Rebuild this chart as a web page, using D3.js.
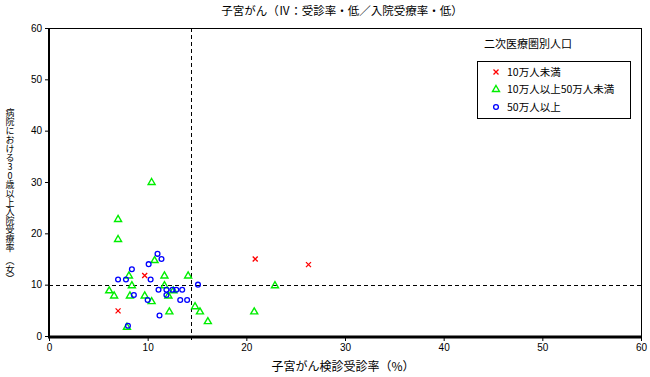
<!DOCTYPE html>
<html><head><meta charset="utf-8">
<script src="https://cdn.jsdelivr.net/npm/d3@7"></script>
<style>
html,body{margin:0;padding:0;background:#fff;}
svg{display:block;}
text{font-family:"Noto Sans CJK JP","Liberation Sans",sans-serif;fill:#000;}
</style></head>
<body>
<svg id="c" width="650" height="377"></svg>
<script>
// ---- data ----
const title = "子宮がん（Ⅳ：受診率・低／入院受療率・低）";
const xLabel = "子宮がん検診受診率（%）";
const yLabel = "病院における30歳以上入院受療率　（女）";
const legendTitle = "二次医療圏別人口";
const seriesNames = ["10万人未満","10万人以上50万人未満","50万人以上"];
const xTicks = [0,10,20,30,40,50,60];
const yTicks = [0,10,20,30,40,50,60];
const refX = 14.4;
const refY = 10;

const smallX = [9.7, 7.0, 20.9, 26.3];
const smallY = [11.8, 4.9, 15.0, 13.9];

const midX = [10.4, 7.0, 7.0, 10.7, 8.1, 11.7, 14.1, 8.4, 11.7, 6.1, 6.6, 8.2, 9.7, 12.1, 12.6, 10.4, 14.8, 15.3, 12.2, 16.1, 7.9, 22.9, 20.8];
const midY = [30.0, 22.8, 18.9, 14.8, 11.8, 11.8, 11.8, 9.9, 9.9, 8.9, 7.9, 7.9, 7.9, 7.9, 8.9, 6.8, 5.8, 4.8, 4.8, 2.9, 1.8, 9.9, 4.8];

const largeX = [11.0, 11.4, 10.1, 8.4, 7.0, 7.8, 10.3, 15.1, 11.1, 11.9, 12.5, 12.9, 13.5, 8.6, 11.9, 10.0, 13.3, 14.0, 11.2, 8.0];
const largeY = [16.0, 15.0, 14.0, 13.0, 11.0, 11.0, 11.0, 10.0, 9.0, 9.0, 9.0, 9.0, 9.0, 8.0, 8.0, 7.0, 7.0, 7.0, 4.0, 2.0];

// ---- chart ----
const svg = d3.select("#c");
const L = 49, R = 641, T = 28, B = 336;
const x = d3.scaleLinear().domain([0,60]).range([L,R]);
const y = d3.scaleLinear().domain([0,60]).range([B,T]);

const red = "#ff0000", green = "#00ee00", blue = "#0000ff";

// frame top/right
svg.append("line").attr("x1",L).attr("x2",R).attr("y1",T+0.5).attr("y2",T+0.5).attr("stroke","#000").attr("stroke-width",1);
svg.append("line").attr("x1",R+0.5).attr("x2",R+0.5).attr("y1",T).attr("y2",B).attr("stroke","#000").attr("stroke-width",1);

// axes
const xAxis = d3.axisBottom(x).tickValues(xTicks).tickSize(4).tickPadding(3);
const gx = svg.append("g").attr("transform",`translate(0,${B+1})`).call(xAxis);
gx.select(".domain").attr("stroke-width",3).attr("d",`M${L-1},0H${R+1}`);
gx.selectAll("text").style("font-family","'Liberation Sans',sans-serif").style("font-size","10px");
gx.selectAll(".tick line").attr("stroke-width",1);

const yAxis = d3.axisLeft(y).tickValues(yTicks).tickSize(4).tickPadding(3);
const gy = svg.append("g").attr("transform",`translate(${L},0)`).call(yAxis);
gy.select(".domain").attr("stroke-width",2).attr("d",`M0,${T}V${B+2}`);
gy.selectAll("text").style("font-family","'Liberation Sans',sans-serif").style("font-size","10px");

// reference lines
const rx = Math.round(x(refX)) + 0.5;
svg.append("line").attr("x1",rx).attr("x2",rx).attr("y1",T).attr("y2",B+6)
  .attr("stroke","#000").attr("stroke-width",1).attr("stroke-dasharray","4,3");
svg.append("line").attr("x1",L).attr("x2",R).attr("y1",Math.round(y(refY))+0.5).attr("y2",Math.round(y(refY))+0.5)
  .attr("stroke","#000").attr("stroke-width",1).attr("stroke-dasharray","4,3");

// markers
function cross(g, cx, cy){
  const s=2.5;
  g.append("path").attr("d",`M${cx-s},${cy-s}L${cx+s},${cy+s}M${cx-s},${cy+s}L${cx+s},${cy-s}`)
   .attr("stroke",red).attr("stroke-width",1.3).attr("fill","none");
}
function tri(g, cx, cy){
  g.append("path").attr("d",`M${cx},${cy-3.5}L${cx+3.5},${cy+2.5}L${cx-3.5},${cy+2.5}Z`)
   .attr("stroke",green).attr("stroke-width",1.4).attr("fill","none");
}
function circ(g, cx, cy){
  g.append("circle").attr("cx",cx).attr("cy",cy).attr("r",2.4)
   .attr("stroke",blue).attr("stroke-width",1.3).attr("fill","none");
}
const gp = svg.append("g");
midX.forEach((v,i)=>tri(gp, x(v), y(midY[i])));
largeX.forEach((v,i)=>circ(gp, x(v), y(largeY[i])));
smallX.forEach((v,i)=>cross(gp, x(v), y(smallY[i])));

// title
svg.append("text").attr("x",342).attr("y",15).attr("text-anchor","middle")
  .style("font-size","11.5px").text(title);
// x label
svg.append("text").attr("x",343).attr("y",371).attr("text-anchor","middle")
  .style("font-size","12px").text(xLabel);
// y label (vertical)
svg.append("text").attr("x",10).attr("y",108)
  .style("font-size","9px")
  .style("writing-mode","vertical-rl")
  .style("text-orientation","upright")
  .text(yLabel);

// legend
svg.append("text").attr("x",484).attr("y",48).style("font-size","11px").text(legendTitle);
svg.append("rect").attr("x",477.5).attr("y",61.5).attr("width",153).attr("height",57)
  .attr("fill","none").attr("stroke","#000").attr("stroke-width",1);
const ly = [72, 89, 107];
const lg = svg.append("g");
cross(lg, 496, ly[0]);
tri(lg, 496, ly[1]);
circ(lg, 496, ly[2]);
seriesNames.forEach((n,i)=>{
  lg.append("text").attr("x",507).attr("y",ly[i]+4).style("font-size","10.5px").text(n);
});
</script>
</body></html>
